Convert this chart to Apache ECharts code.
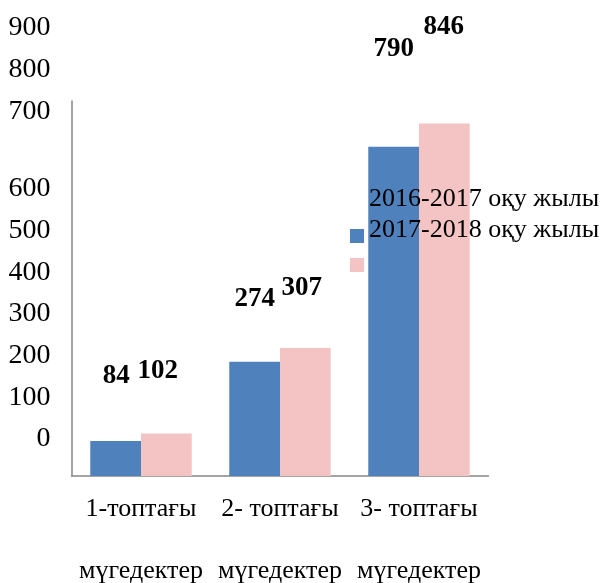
<!DOCTYPE html>
<html>
<head>
<meta charset="utf-8">
<script src="https://cdn.jsdelivr.net/npm/echarts@6/dist/echarts.min.js"></script>
<style>
  html, body { margin: 0; padding: 0; background: #fff; }
  #chart { width: 606px; height: 583px; }
</style>
</head>
<body>
<div id="chart"></div>
<script>
// данные
var categories = ['1-топтағы мүгедектер', '2- топтағы мүгедектер', '3- топтағы мүгедектер'];
var seriesNames = ['2016-2017 оқу жылы', '2017-2018 оқу жылы'];
var values2016 = [84, 274, 790];
var values2017 = [102, 307, 846];
var yTicks = [0, 100, 200, 300, 400, 500, 600, 700, 800, 900];

// value labels sit off their bars in the original, nudge them
var labelOffsets2016 = [[0.5, -46], [0, -44], [0, -79]];
var labelOffsets2017 = [[-8.5, -43.5], [-3.5, -41.5], [-0.5, -78]];

var serif = '"Liberation Serif", "Times New Roman", serif';
var blue = '#4F81BD';
var pink = '#F4C3C3';

function withOffsets(vals, offs) {
  return vals.map(function (v, i) {
    return { value: v, label: { offset: offs[i] } };
  });
}

var chart = echarts.init(document.getElementById('chart'));

var barLabel = {
  show: true,
  position: 'top',
  color: '#000',
  fontFamily: serif,
  fontWeight: 'bold',
  fontSize: 27
};

var option = {
  backgroundColor: '#fff',
  animation: false,
  grid: {
    left: 71.5, right: 117.5, top: 101, bottom: 107,
    containLabel: false,
    outerBoundsMode: 'none'
  },
  xAxis: {
    type: 'category',
    data: categories,
    axisLine: { lineStyle: { color: '#868686', width: 1.5 } },
    axisTick: { show: false },
    axisLabel: {
      margin: 17.5,
      interval: 0,
      color: '#000',
      fontFamily: serif,
      fontSize: 26,
      lineHeight: 31,
      formatter: function (s) {
        var k = s.lastIndexOf(' ');
        return s.slice(0, k) + '\n\n' + s.slice(k + 1);
      }
    }
  },
  yAxis: {
    type: 'value',
    min: yTicks[0],
    max: yTicks[yTicks.length - 1],
    interval: 100,
    axisLine: { show: true, lineStyle: { color: '#868686', width: 1.5 } },
    axisTick: { show: false },
    splitLine: { show: false },
    axisLabel: {
      margin: 21,
      color: '#000',
      fontFamily: serif,
      fontSize: 28,
      formatter: function (v) {
        return v >= 700 ? '{b|' + v + '}' : '{a|' + v + '}';
      },
      rich: {
        a: { fontFamily: serif, fontSize: 28, color: '#000', padding: [0, 0, 74, 0] },
        b: { fontFamily: serif, fontSize: 28, color: '#000', padding: [0, 0, 146, 0] }
      }
    }
  },
  legend: [
    {
      data: [seriesNames[0]],
      left: 350,
      top: 186,
      padding: 0,
      itemWidth: 14,
      itemHeight: 14,
      itemGap: 5,
      icon: 'rect',
      formatter: '{t|{name}}',
      textStyle: {
        rich: { t: { fontFamily: serif, fontSize: 26, color: '#000', padding: [0, 0, 74, 0] } }
      }
    },
    {
      data: [seriesNames[1]],
      left: 350,
      top: 217,
      padding: 0,
      itemWidth: 14,
      itemHeight: 14,
      itemGap: 5,
      icon: 'rect',
      formatter: '{t|{name}}',
      textStyle: {
        rich: { t: { fontFamily: serif, fontSize: 26, color: '#000', padding: [0, 0, 70, 0] } }
      }
    }
  ],
  series: [
    {
      name: seriesNames[0],
      type: 'bar',
      data: withOffsets(values2016, labelOffsets2016),
      barGap: '0%',
      barCategoryGap: '27%',
      itemStyle: { color: blue },
      label: barLabel
    },
    {
      name: seriesNames[1],
      type: 'bar',
      data: withOffsets(values2017, labelOffsets2017),
      barGap: '0%',
      barCategoryGap: '27%',
      itemStyle: { color: pink },
      label: barLabel
    }
  ]
};

chart.setOption(option);
</script>
</body>
</html>
